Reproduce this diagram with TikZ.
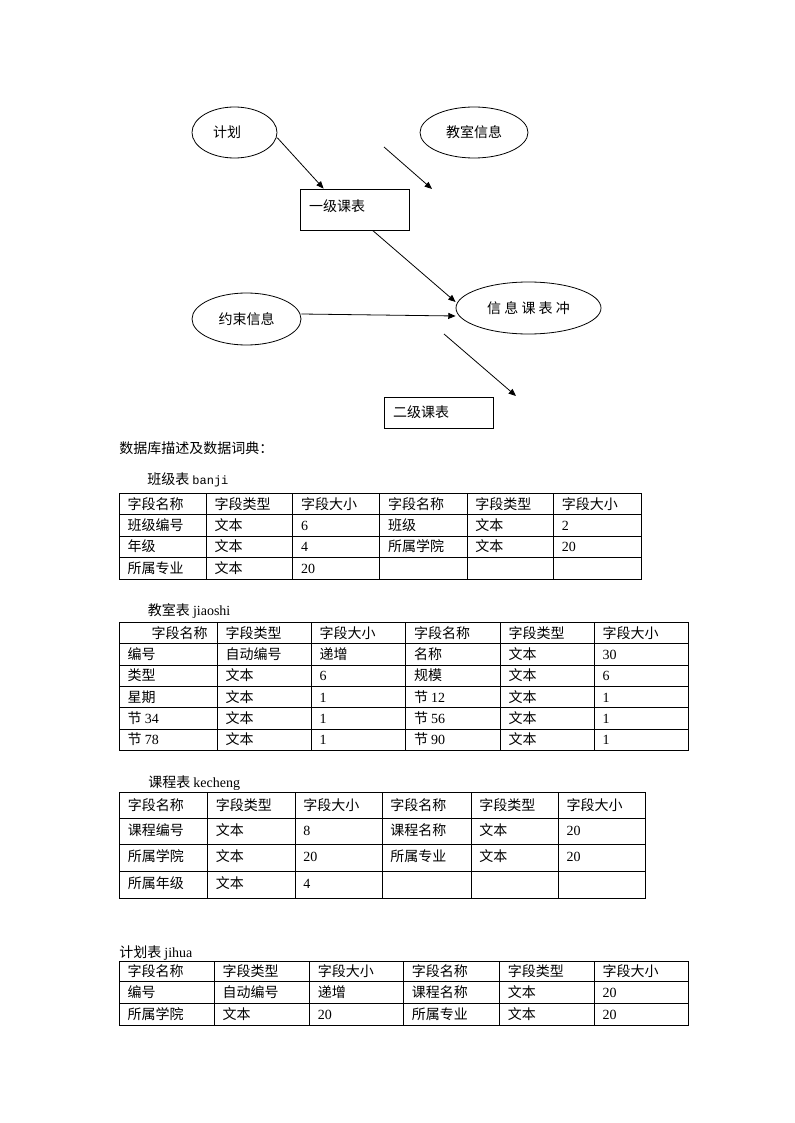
\documentclass[tikz,border=0pt]{standalone}
\usepackage{fontspec}
\setmainfont{Liberation Serif}
\setmonofont{Liberation Mono}
\newfontfamily\cjk{Noto Sans CJK SC}
\usetikzlibrary{shapes.geometric,arrows.meta}

\newcommand\lat[1]{{\rmfamily #1}}
\newcommand\setcols[6]{\def\colA{#1}\def\colB{#2}\def\colC{#3}\def\colD{#4}\def\colE{#5}\def\colF{#6}}
\newcommand\trow[8]{%
  \node[cell] (#1a) at (\colA+8,#2) {#3};
  \node[cell] (#1b) at (\colB+8,#2) {#4};
  \node[cell] (#1c) at (\colC+8,#2) {#5};
  \node[cell] (#1d) at (\colD+8,#2) {#6};
  \node[cell] (#1e) at (\colE+8,#2) {#7};
  \node[cell] (#1f) at (\colF+8,#2) {#8};}
\newcommand\thalf[5]{%
  \node[cell] (#1a) at (\colA+8,#2) {#3};
  \node[cell] (#1b) at (\colB+8,#2) {#4};
  \node[cell] (#1c) at (\colC+8,#2) {#5};}

\tikzset{
  cell/.style={anchor=west, inner sep=0pt, text height=0.88em, text depth=0.12em},
  rule/.style={line width=0.7pt, line cap=rect},
  flow/.style={line width=0.6pt, -{Triangle[length=5.5pt,width=4.5pt]}},
  oval/.style={draw, ellipse, inner sep=0pt, line width=0.6pt},
  box/.style={draw, rectangle, line width=0.6pt, inner xsep=6.75pt, inner ysep=0pt,
    text width=68.25pt, align=left}
}

\begin{document}
\begin{tikzpicture}[x=0.75pt, y=-0.75pt, font=\cjk\fontsize{10.5}{12.6}\selectfont]
  \useasboundingbox (0,0) rectangle (794,1123);

  % flow diagram
  \node[oval, minimum width=63.75pt, minimum height=38.25pt] (jihua) at (234.5,132.5) {计划\hspace*{11pt}};
  \node[oval, minimum width=81pt, minimum height=38.25pt] (jiaoshi) at (474,132.5) {教室信息};
  \node[box, minimum height=30.75pt, text height=0.88em, text depth=0.12em+4.5pt] (yiji) at (354.5,209.5) {一级课表};
  \node[oval, minimum width=81.75pt, minimum height=39pt] (yueshu) at (246.5,319) {约束信息};
  \node[oval, minimum width=108.75pt, minimum height=39pt] (chongtu) at (528.5,308) {信 息 课 表 冲};
  \node[box, minimum height=23.25pt] (erji) at (438.5,412.5) {二级课表};
  \coordinate (jsa) at (384,147);
  \coordinate (jsb) at (432,189);
  \coordinate (cta) at (444,334);
  \coordinate (ctb) at (516,396);

  \draw[flow] ([yshift=-4pt]jihua.east) -- ([xshift=18pt]yiji.north west);
  \draw[flow] (jsa) -- (jsb);
  \draw[flow] ([xshift=54.75pt]yiji.south west) -- ([yshift=4.5pt]chongtu.west);
  \draw[flow] ([yshift=3.75pt]yueshu.east) -- ([yshift=-6pt]chongtu.west);
  \draw[flow] (cta) -- (ctb);

  \node[cell] (desc) at (119,448) {数据库描述及数据词典：};

  % banji
  \node[cell] (tbanji) at (147,479) {班级表 {\ttfamily\fontsize{9}{10}\selectfont banji}};
  \foreach \x in {119.3,206.3,292.9,379.9,467,553.6,641.3}
    \draw[rule] (\x,493.3) -- (\x,579);
  \foreach \y in {493.3,514.7,536,557.7,579}
    \draw[rule] (119.3,\y) -- (641.3,\y);
  \setcols{119.3}{206.3}{292.9}{379.9}{467}{553.6}
  \trow{bj1}{504}{字段名称}{字段类型}{字段大小}{字段名称}{字段类型}{字段大小}
  \trow{bj2}{525.3}{班级编号}{文本}{\lat{6}}{班级}{文本}{\lat{2}}
  \trow{bj3}{546.8}{年级}{文本}{\lat{4}}{所属学院}{文本}{\lat{20}}
  \thalf{bj4}{568.3}{所属专业}{文本}{\lat{20}}

  % jiaoshi
  \node[cell] (tjiaoshi) at (147.6,610) {教室表 \lat{jiaoshi}};
  \foreach \x in {119.4,217.3,311.4,405.8,500.3,594.4,688.5}
    \draw[rule] (\x,622.7) -- (\x,750.3);
  \foreach \y in {622.7,643.3,665,686.7,707.7,729,750.3}
    \draw[rule] (119.4,\y) -- (688.5,\y);
  \setcols{119.4}{217.3}{311.4}{405.8}{500.3}{594.4}
  \trow{js1}{633}{\hspace*{18pt}字段名称}{字段类型}{字段大小}{字段名称}{字段类型}{字段大小}
  \trow{js2}{654.2}{编号}{自动编号}{递增}{名称}{文本}{\lat{30}}
  \trow{js3}{675.8}{类型}{文本}{\lat{6}}{规模}{文本}{\lat{6}}
  \trow{js4}{697.2}{星期}{文本}{\lat{1}}{节 \lat{12}}{文本}{\lat{1}}
  \trow{js5}{718.4}{节 \lat{34}}{文本}{\lat{1}}{节 \lat{56}}{文本}{\lat{1}}
  \trow{js6}{739.7}{节 \lat{78}}{文本}{\lat{1}}{节 \lat{90}}{文本}{\lat{1}}

  % kecheng
  \node[cell] (tkecheng) at (148,782) {课程表 \lat{kecheng}};
  \foreach \x in {119.5,207.6,295,382,471,558.4,645.5}
    \draw[rule] (\x,792.7) -- (\x,898.3);
  \foreach \y in {792.7,818.3,844.3,871,898.3}
    \draw[rule] (119.5,\y) -- (645.5,\y);
  \setcols{119.5}{207.6}{295}{382}{471}{558.4}
  \trow{kc1}{805}{字段名称}{字段类型}{字段大小}{字段名称}{字段类型}{字段大小}
  \trow{kc2}{830.5}{课程编号}{文本}{\lat{8}}{课程名称}{文本}{\lat{20}}
  \trow{kc3}{856.5}{所属学院}{文本}{\lat{20}}{所属专业}{文本}{\lat{20}}
  \thalf{kc4}{883.5}{所属年级}{文本}{\lat{4}}

  % jihua
  \node[cell] (tjihua) at (119,952) {计划表 \lat{jihua}};
  \foreach \x in {119.4,214.3,309.5,403.6,499.5,594.4,688.5}
    \draw[rule] (\x,961) -- (\x,1025.7);
  \foreach \y in {961,981.7,1003.3,1025.7}
    \draw[rule] (119.4,\y) -- (688.5,\y);
  \setcols{119.4}{214.3}{309.5}{403.6}{499.5}{594.4}
  \trow{jh1}{971.3}{字段名称}{字段类型}{字段大小}{字段名称}{字段类型}{字段大小}
  \trow{jh2}{992.5}{编号}{自动编号}{递增}{课程名称}{文本}{\lat{20}}
  \trow{jh3}{1014.5}{所属学院}{文本}{\lat{20}}{所属专业}{文本}{\lat{20}}
\end{tikzpicture}
\end{document}
